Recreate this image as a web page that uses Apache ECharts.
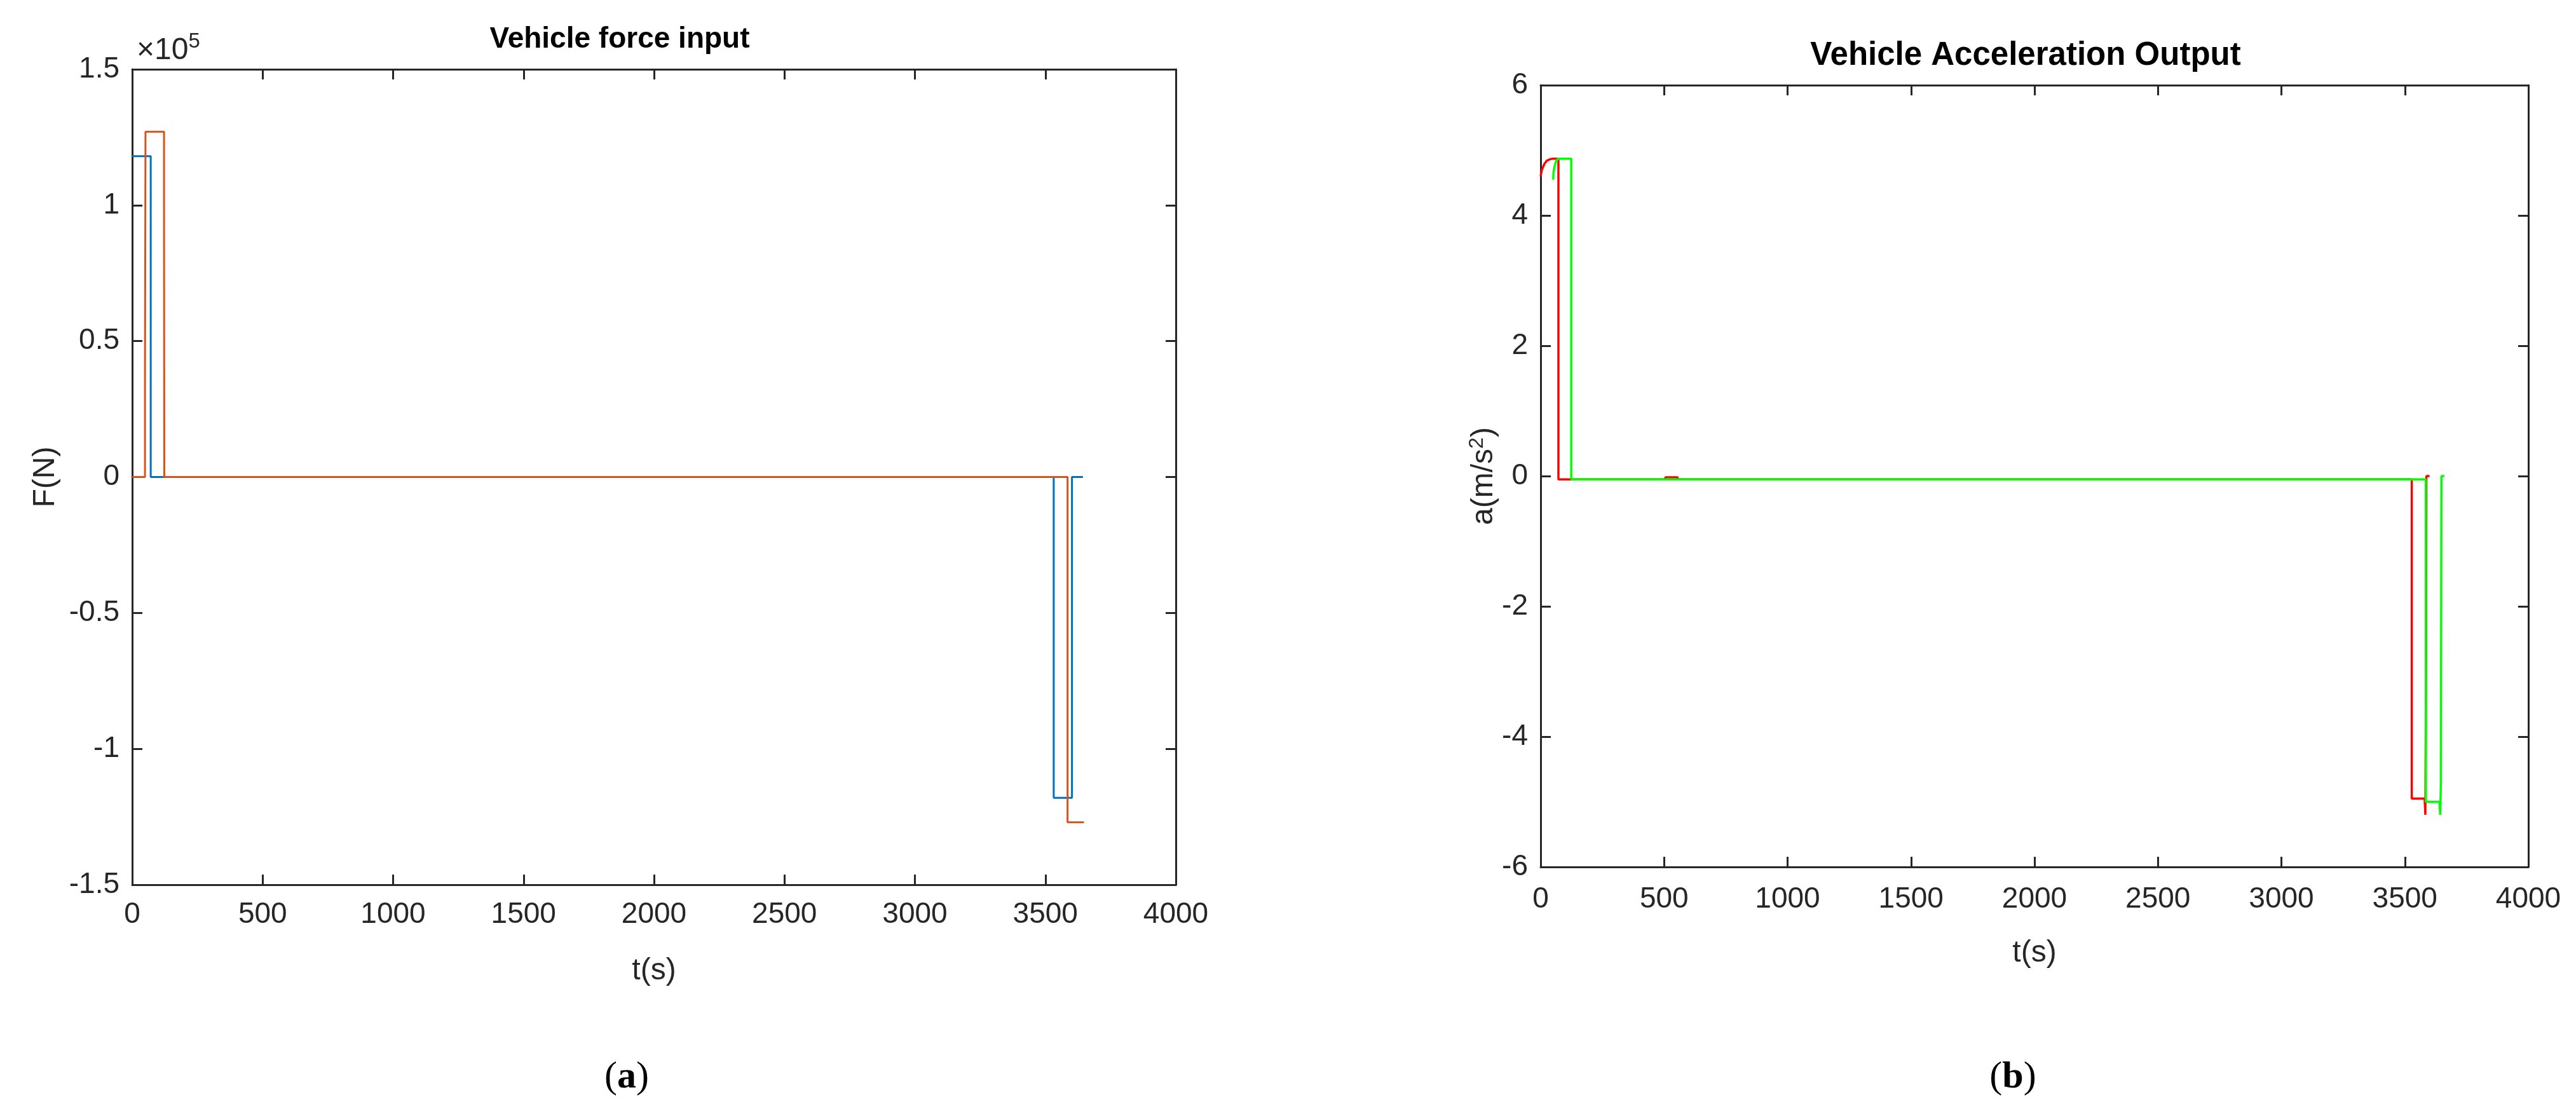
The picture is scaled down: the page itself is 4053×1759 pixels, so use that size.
<!DOCTYPE html>
<html><head><meta charset="utf-8">
<script src="https://cdn.jsdelivr.net/npm/echarts@6/dist/echarts.min.js"></script>
<style>html,body{margin:0;padding:0;background:#fff}#c{width:4053px;height:1759px}</style>
</head><body><div id="c"></div>
<script>
// ---- Data ----
const forceTimeBlue   = [0, 71, 71, 3532, 3532, 3602, 3602, 3644];
const forceBlue       = [118000, 118000, 0, 0, -118000, -118000, 0, 0];
const forceTimeOrange = [0, 49, 49, 51, 51, 122, 122, 123, 123, 3585, 3585, 3648];
const forceOrange     = [0, 0, 35000, 35000, 127000, 127000, 100000, 100000, 0, 0, -127000, -127000];

const accTimeRed   = [0, 5, 15, 25, 36, 45, 72, 72, 505, 505, 555, 555, 3528, 3528, 3580, 3583, 3586, 3587, 3600];
const accRed       = [4.6, 4.7, 4.79, 4.84, 4.86, 4.87, 4.87, -0.05, -0.05, -0.02, -0.02, -0.05, -0.05, -4.95, -4.95, -5.2, -2.7, 0, 0];
const accTimeGreen = [51, 52, 56, 62, 70, 124, 124, 3585, 3585, 3640, 3643, 3646, 3648, 3648, 3660];
const accGreen     = [4.55, 4.65, 4.75, 4.83, 4.87, 4.87, -0.05, -0.05, -5.0, -5.0, -5.2, -4.7, -4.7, 0, 0];

const timeTicks  = ['0', '500', '1000', '1500', '2000', '2500', '3000', '3500', '4000'];
const forceTicks = ['-1.5', '-1', '-0.5', '0', '0.5', '1', '1.5'];   // ×10^5
const accTicks   = ['-6', '-4', '-2', '0', '2', '4', '6'];

const zip = (t, v) => t.map((x, i) => [x, v[i]]);

const AX = '#262626';
const FONT = 'Liberation Sans';
const LBL = 46;

const tFmt = v => timeTicks[Math.round(v / 500)];
const fFmt = v => forceTicks[Math.round((v + 150000) / 50000)];
const aFmt = v => accTicks[Math.round((v + 6) / 2)];

function xAxis(grid, pos, margin) {
  const bottom = pos === 'bottom';
  return {
    type: 'value', gridIndex: grid, position: pos,
    min: 0, max: 4000, interval: 500,
    axisLine: { show: true, onZero: false, lineStyle: { color: AX, width: 3 } },
    axisTick: { show: true, inside: true, length: 16, lineStyle: { color: AX, width: 3 } },
    axisLabel: { show: bottom, margin: margin, color: AX, fontSize: LBL, fontFamily: FONT, formatter: tFmt },
    splitLine: { show: false },
    name: bottom ? 't(s)' : '', nameLocation: 'middle', nameGap: 112,
    nameTextStyle: { color: AX, fontSize: 48, fontFamily: FONT }
  };
}
function yAxis(grid, pos, min, max, interval, fmt, name, nameGap) {
  const left = pos === 'left';
  return {
    type: 'value', gridIndex: grid, position: pos, min: min, max: max, interval: interval,
    axisLine: { show: true, onZero: false, lineStyle: { color: AX, width: 3 } },
    axisTick: { show: true, inside: true, length: 16, lineStyle: { color: AX, width: 3 } },
    axisLabel: { show: left, margin: 20, color: AX, fontSize: LBL, fontFamily: FONT, formatter: fmt },
    splitLine: { show: false },
    name: left ? name : '', nameLocation: 'middle', nameGap: nameGap, nameRotate: 90,
    nameTextStyle: { color: AX, fontSize: 48, fontFamily: FONT,
      rich: { sup: { fontSize: 32, fontFamily: FONT, color: AX, verticalAlign: 'top', padding: [0, 0, 22, 0] } } }
  };
}

const option = {
  animation: false,
  backgroundColor: '#ffffff',
  grid: [
    { left: 208, top: 109, width: 1642, height: 1283, containLabel: false, outerBoundsMode: 'none' },
    { left: 2424, top: 134, width: 1554, height: 1230, containLabel: false, outerBoundsMode: 'none' }
  ],
  xAxis: [ xAxis(0, 'bottom', 24), xAxis(0, 'top', 24), xAxis(1, 'bottom', 28), xAxis(1, 'top', 28) ],
  yAxis: [
    yAxis(0, 'left', -150000, 150000, 50000, fFmt, 'F(N)', 112),
    yAxis(0, 'right', -150000, 150000, 50000, fFmt, '', 0),
    yAxis(1, 'left', -6, 6, 2, aFmt, 'a(m/s{sup|2})', 60),
    yAxis(1, 'right', -6, 6, 2, aFmt, '', 0)
  ],
  series: [
    { type: 'line', xAxisIndex: 0, yAxisIndex: 0, data: zip(forceTimeBlue, forceBlue), showSymbol: false,
      lineStyle: { color: '#0072BD', width: 3 }, itemStyle: { color: '#0072BD' } },
    { type: 'line', xAxisIndex: 0, yAxisIndex: 0, data: zip(forceTimeOrange, forceOrange), showSymbol: false,
      lineStyle: { color: '#D95319', width: 3 }, itemStyle: { color: '#D95319' } },
    { type: 'line', xAxisIndex: 2, yAxisIndex: 2, data: zip(accTimeRed, accRed), showSymbol: false,
      lineStyle: { color: '#FF0000', width: 3.5 }, itemStyle: { color: '#FF0000' } },
    { type: 'line', xAxisIndex: 2, yAxisIndex: 2, data: zip(accTimeGreen, accGreen), showSymbol: false,
      lineStyle: { color: '#00FF00', width: 3.5 }, itemStyle: { color: '#00FF00' } }
  ],
  graphic: [
    { type: 'text', position: [975, 62], style: { text: 'Vehicle force input', align: 'center', verticalAlign: 'middle',
      fontSize: 46, fontWeight: 'bold', fontFamily: FONT, fill: '#000' } },
    { type: 'text', position: [3187, 88], style: { text: 'Vehicle Acceleration Output', align: 'center', verticalAlign: 'middle',
      fontSize: 51, fontWeight: 'bold', fontFamily: FONT, fill: '#000' } },
    { type: 'text', position: [215, 80], style: { text: '×10{sup|5}', align: 'left', verticalAlign: 'middle',
      fontSize: 48, fontFamily: FONT, fill: AX,
      rich: { sup: { fontSize: 33, fontFamily: FONT, fill: AX, padding: [0, 0, 28, 0] } } } },
    { type: 'text', position: [986, 1695], style: { text: '({b|a})', align: 'center', verticalAlign: 'middle',
      fontSize: 60, fontFamily: 'Liberation Serif', fill: '#000',
      rich: { b: { fontSize: 60, fontWeight: 'bold', fontFamily: 'Liberation Serif', fill: '#000' } } } },
    { type: 'text', position: [3167, 1695], style: { text: '({b|b})', align: 'center', verticalAlign: 'middle',
      fontSize: 60, fontFamily: 'Liberation Serif', fill: '#000',
      rich: { b: { fontSize: 60, fontWeight: 'bold', fontFamily: 'Liberation Serif', fill: '#000' } } } }
  ]
};
const chart = echarts.init(document.getElementById('c'), null, { renderer: 'canvas', width: 4053, height: 1759 });
chart.setOption(option);
</script>
</body></html>
